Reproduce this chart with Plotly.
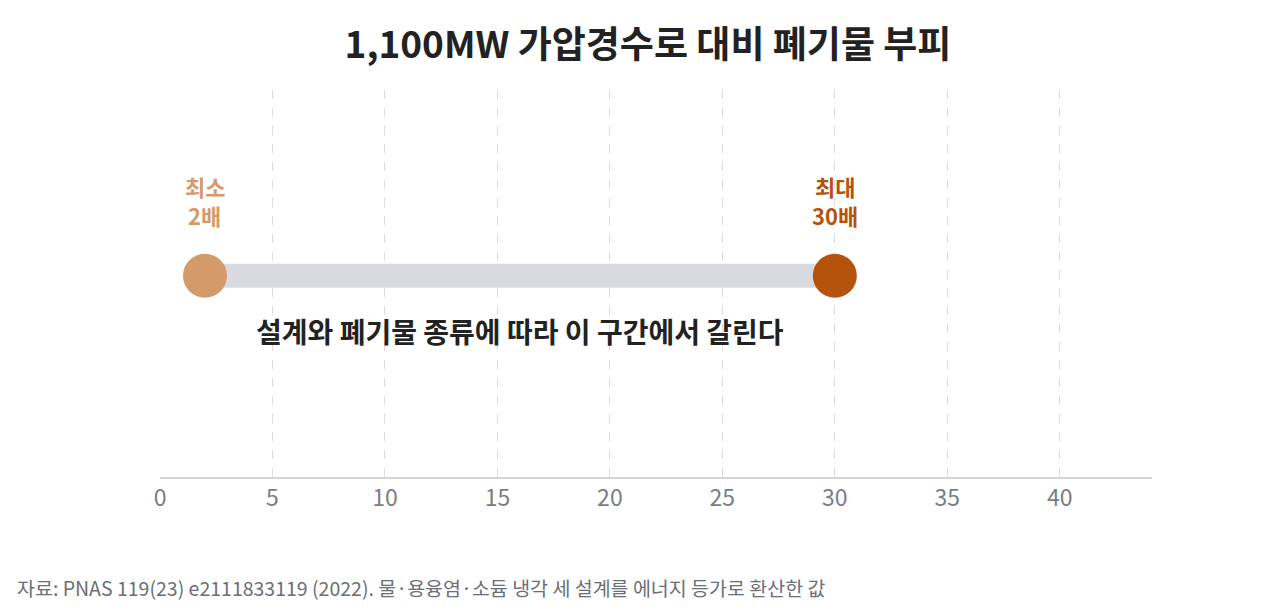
import plotly.graph_objects as go

title_text = "1,100MW 가압경수로 대비 폐기물 부피"
label_top = ["최소", "최대"]
label_bottom = ["2배", "30배"]
values = [2, 30]
colors = ["#d49a6a", "#b5530c"]
range_note = "설계와 폐기물 종류에 따라 이 구간에서 갈린다"
source_note = "자료: PNAS 119(23) e2111833119 (2022). 물·용융염·소듐 냉각 세 설계를 에너지 등가로 환산한 값"
tick_vals = [0, 5, 10, 15, 20, 25, 30, 35, 40]
row_y = 0.52

FONT = "Noto Sans CJK KR"

fig = go.Figure()
fig.add_trace(go.Scatter(
    x=values, y=[row_y, row_y], mode="lines",
    line=dict(color="#d9dadf", width=24), hoverinfo="skip", showlegend=False))
fig.add_trace(go.Scatter(
    x=values, y=[row_y, row_y], mode="markers",
    marker=dict(color=colors, size=44, line=dict(width=0)),
    showlegend=False))

for v, t1, t2, c in zip(values, label_top, label_bottom, colors):
    fig.add_annotation(x=v, y=row_y, yref="y", xref="x", text="<b>" + t1 + "</b>",
                       showarrow=False, yshift=90, font=dict(family=FONT, size=22, color=c))
    fig.add_annotation(x=v, y=row_y, yref="y", xref="x", text="<b>" + t2 + "</b>",
                       showarrow=False, yshift=61, font=dict(family=FONT, size=22, color=c))

fig.add_annotation(x=(values[0] + values[1]) / 2, y=row_y, text="<b>" + range_note + "</b>",
                   showarrow=False, yshift=-55, font=dict(family=FONT, size=28, color="#222222"))

fig.add_annotation(xref="paper", yref="paper", x=-0.1462, y=-0.2868, xanchor="left", yanchor="middle",
                   text=source_note, showarrow=False,
                   font=dict(family=FONT, size=19.5, color="#6b6e76"))

fig.update_layout(
    width=1280, height=613,
    margin=dict(l=152, r=136, t=82, b=144),
    paper_bgcolor="white", plot_bgcolor="white",
    title=dict(text="<b>" + title_text + "</b>", x=0.5, xanchor="center", y=0.94, yanchor="middle",
               font=dict(family=FONT, size=37, color="#222222")),
    font=dict(family=FONT),
    xaxis=dict(range=[0, 44.1], tickvals=tick_vals, showgrid=True, gridcolor="#dcdcdc",
               griddash="dash", gridwidth=1, zeroline=False, showline=True,
               linecolor="#d5d5d8", linewidth=1.5, ticks="", ticklen=0,
               tickfont=dict(family=FONT, size=23, color="#7a7d86")),
    yaxis=dict(range=[0, 1], visible=False, showgrid=False, zeroline=False),
)

fig.write_html("out.html")
